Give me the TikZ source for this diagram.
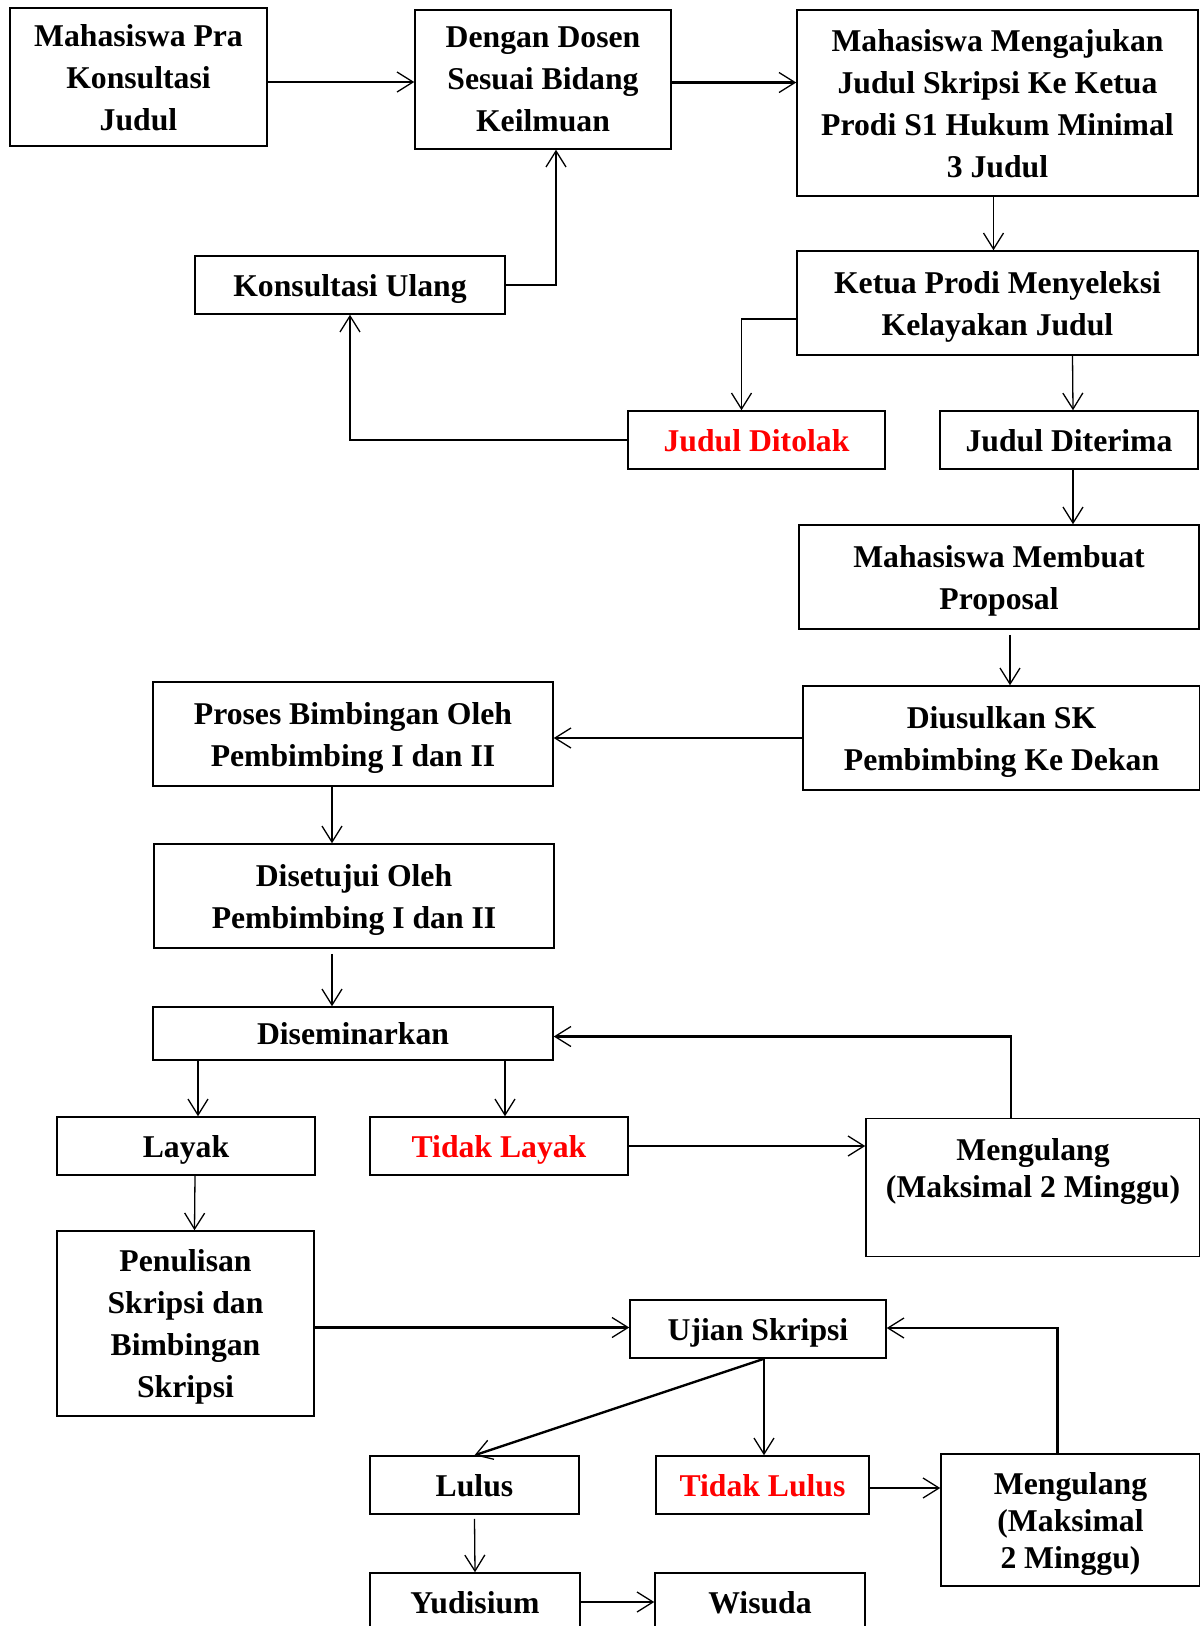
\documentclass[tikz,border=0pt]{standalone}
\usepackage{fontspec}
\setmainfont{Liberation Serif}
\usetikzlibrary{calc,arrows.meta}
\tikzset{
	kotak/.style={draw, line width=1.5pt, align=center, inner sep=0pt, text depth=0pt, font=\bfseries\fontsize{31.7}{42}\selectfont},
	kotakrapat/.style={kotak, font=\bfseries\fontsize{31.7}{37}\selectfont},
	panah/.style={line width=1.3pt, -{Straight Barb[length=16pt,width=20pt,line width=1.3pt]}},
	panahtebal/.style={panah, line width=2.4pt},
}
\begin{document}
\begin{tikzpicture}[x=1pt, y=-1pt]
		%%%%% START %%%%%
		\useasboundingbox (0,0) rectangle (1200,1626);
		
		\node[kotak, minimum width=257pt, minimum height=138pt, text depth=-6pt] (pra) at (138.5,77) {Mahasiswa Pra\\Konsultasi\\Judul};
		\node[kotak, minimum width=256pt, minimum height=139pt, text depth=-6pt] (dosen) at (543,79.5) {Dengan Dosen\\Sesuai Bidang\\Keilmuan};
		\node[kotak, minimum width=401pt, minimum height=186pt] (ajukan) at (997.5,103) {Mahasiswa Mengajukan\\Judul Skripsi Ke Ketua\\Prodi S1 Hukum Minimal\\3 Judul};
		\node[kotak, minimum width=310pt, minimum height=58pt] (ulang) at (350,285) {Konsultasi Ulang};
		\node[kotak, minimum width=401pt, minimum height=104pt] (ketua) at (997.5,303) {Ketua Prodi Menyeleksi\\Kelayakan Judul};
		\node[kotak, text=red, minimum width=257pt, minimum height=58pt] (ditolak) at (756.5,440) {Judul Ditolak};
		\node[kotak, minimum width=258pt, minimum height=58pt] (diterima) at (1069,440) {Judul Diterima};
		
		\node[kotak, minimum width=400pt, minimum height=104pt] (proposal) at (999,577) {Mahasiswa Membuat\\Proposal};
		\node[kotak, minimum width=397pt, minimum height=104pt] (usul) at (1001.5,738) {Diusulkan SK\\Pembimbing Ke Dekan};
		\node[kotak, minimum width=400pt, minimum height=104pt] (proses) at (353,734) {Proses Bimbingan Oleh\\Pembimbing I dan II};
		\node[kotak, minimum width=400pt, minimum height=104pt] (setuju) at (354,896) {Disetujui Oleh\\Pembimbing I dan II};
		\node[kotak, minimum width=400pt, minimum height=53pt] (seminar) at (353,1033.5) {Diseminarkan};
		
		\node[kotak, minimum width=258pt, minimum height=58pt] (layak) at (186,1146) {Layak};
		\node[kotak, text=red, minimum width=258pt, minimum height=58pt] (tlayak) at (499,1146) {Tidak Layak};
		\node[kotakrapat, minimum width=334pt, minimum height=138pt, text depth=40pt] (ulangsem) at (1033,1187.5) {Mengulang\\(Maksimal 2 Minggu)};
		
		\node[kotak, minimum width=257pt, minimum height=185pt] (tulis) at (185.5,1323.5) {Penulisan\\Skripsi dan\\Bimbingan\\Skripsi};
		\node[kotak, minimum width=256pt, minimum height=58pt] (ujian) at (758,1329) {Ujian Skripsi};
		\node[kotak, minimum width=209pt, minimum height=58pt] (lulus) at (474.5,1485) {Lulus};
		\node[kotak, text=red, minimum width=213pt, minimum height=58pt] (tlulus) at (762.5,1485) {Tidak Lulus};
		\node[kotakrapat, minimum width=259pt, minimum height=132pt] (ulangujian) at (1070.5,1520) {Mengulang\\(Maksimal\\2 Minggu)};
		\node[kotak, minimum width=210pt, minimum height=58pt] (yudisium) at (475,1602) {Yudisium};
		\node[kotak, minimum width=210pt, minimum height=58pt] (wisuda) at (760,1602) {Wisuda};
		
		\draw[panahtebal] ($(pra.east)+(0,5)$) -- ($(pra.east -| dosen.west)+(0,5)$);
		\draw[panahtebal] ($(dosen.east)+(0,3)$) -- ($(dosen.east -| ajukan.west)+(0,3)$);
		\draw[panah] (ulang.east) -| ($(dosen.south)+(13,0)$);
		\draw[panah] ($(ajukan.south)+(-4,0)$) -- ($(ketua.north)+(-4,0)$);
		\draw[panah] ($(ketua.west)+(0,16)$) -| ($(ditolak.north)+(-15,0)$);
		\draw[panah] ($(ketua.south)+(75,0)$) -- ($(diterima.north)+(4,0)$);
		\draw[panah] (ditolak.west) -| (ulang.south);
		\draw[panah] ($(diterima.south)+(4,0)$) -- ($(diterima.south |- proposal.north)+(4,0)$);
		
		\draw[panah] ($(proposal.south)+(11,5)$) -- ($(proposal.south |- usul.north)+(11,0)$);
		\draw[panahtebal] (usul.west) -- (usul.west -| proses.east);
		\draw[panah] ($(proses.south)+(-21,0)$) -- ($(proses.south |- setuju.north)+(-21,0)$);
		\draw[panah] ($(setuju.south)+(-22,5)$) -- ($(setuju.south |- seminar.north)+(-22,0)$);
		\draw[panah] ($(seminar.south -| layak.north)+(12,0)$) -- ($(layak.north)+(12,0)$);
		\draw[panah] ($(seminar.south -| tlayak.north)+(6,0)$) -- ($(tlayak.north)+(6,0)$);
		\draw[panahtebal] (tlayak.east) -- (tlayak.east -| ulangsem.west);
		\draw[panahtebal] ($(ulangsem.north)+(-22,0)$) |- ($(seminar.east)+(0,3)$);
		
		\draw[panah] ($(layak.south)+(9,0)$) -- ($(tulis.north)+(9,0)$);
		\draw[panahtebal] ($(tulis.east)+(0,4)$) -- ($(tulis.east -| ujian.west)+(0,4)$);
		\draw[panahtebal] ($(ujian.south)+(6,0)$) -- (lulus.north);
		\draw[panah] ($(ujian.south)+(6,0)$) -- ($(ujian.south |- tlulus.north)+(6,0)$);
		\draw[panahtebal] ($(tlulus.east)+(0,3)$) -- ($(tlulus.east -| ulangujian.west)+(0,3)$);
		\draw[panahtebal] ($(ulangujian.north)+(-13,0)$) |- ($(ujian.east)+(0,-1)$);
		\draw[panah] ($(lulus.south)+(0,4)$) -- (yudisium.north);
		\draw[panahtebal] (yudisium.east) -- (yudisium.east -| wisuda.west);
		
		%%%%% END %%%%%
	\end{tikzpicture}
\end{document}
